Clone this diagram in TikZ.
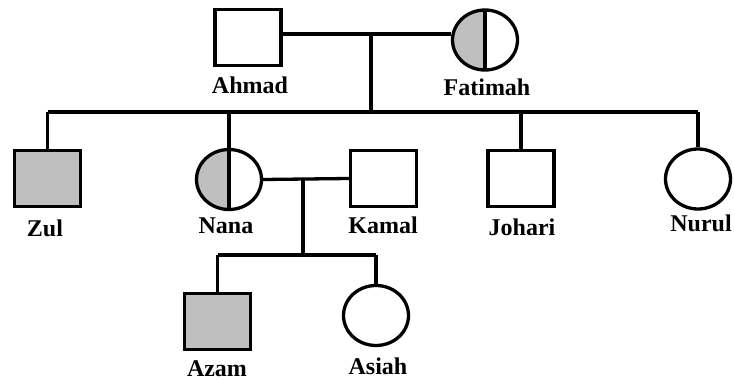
\documentclass[tikz,border=0pt]{standalone}
\usepackage{fontspec}
\setmainfont{Liberation Serif}
\usetikzlibrary{shapes.geometric}

\begin{document}
\begin{tikzpicture}[x=1pt,y=-1pt,line width=3.3pt,
  male/.style={rectangle,draw,fill=white,minimum width=66pt,minimum height=56pt,inner sep=0},
  female/.style={ellipse,draw,fill=white,minimum width=65pt,minimum height=60pt,inner sep=0},
  affected/.style={fill=gray!50},
  carrier/.style={female,path picture={
      \fill[gray!50] (path picture bounding box.south west) rectangle (path picture bounding box.north);
      \draw (path picture bounding box.north) -- (path picture bounding box.south);}},
  pname/.style={anchor=base,font=\fontsize{24}{28}\selectfont\bfseries,inner sep=0}]

  \useasboundingbox (0,0) rectangle (734,380);

  % parents
  \node[male] (ahmad) at (248,37.5) {};
  \node[carrier] (fatimah) at (485,40) {};
  \node[pname] (ahmad-l) at (250,93) {Ahmad};
  \node[pname] (fatimah-l) at (487,95) {Fatimah};

  % children
  \node[male,affected] (zul) at (47.5,178.5) {};
  \node[carrier] (nana) at (229,179.5) {};
  \node[male] (kamal) at (383.5,178.5) {};
  \node[male] (johari) at (521,178.5) {};
  \node[female] (nurul) at (698,179) {};
  \node[pname] (zul-l) at (45,236) {Zul};
  \node[pname] (nana-l) at (226,233) {Nana};
  \node[pname] (kamal-l) at (383,233) {Kamal};
  \node[pname] (johari-l) at (522,235) {Johari};
  \node[pname] (nurul-l) at (701,231) {Nurul};

  % grandchildren
  \node[male,affected] (azam) at (217.5,321.5) {};
  \node[female] (asiah) at (376,315.5) {};
  \node[pname] (azam-l) at (217,376) {Azam};
  \node[pname] (asiah-l) at (378,374) {Asiah};

  \coordinate (m1) at (371,34);
  \coordinate (sib1) at (371,112);
  \coordinate (m2) at (303,178);
  \coordinate (sib2) at (303,255);

  \draw (ahmad.east |- m1) -- (fatimah.west |- m1);
  \draw (m1) -- (sib1);
  \draw (zul.north |- sib1) -- (nurul.north |- sib1);
  \foreach \c in {zul,nana,johari,nurul}
    \draw (\c.north |- sib1) -- (\c.north);

  \draw (nana.east) -- (kamal.west);
  \draw (m2) -- (sib2);
  \draw (azam.north |- sib2) -- (asiah.north |- sib2);
  \foreach \c in {azam,asiah}
    \draw (\c.north |- sib2) -- (\c.north);
\end{tikzpicture}
\end{document}
